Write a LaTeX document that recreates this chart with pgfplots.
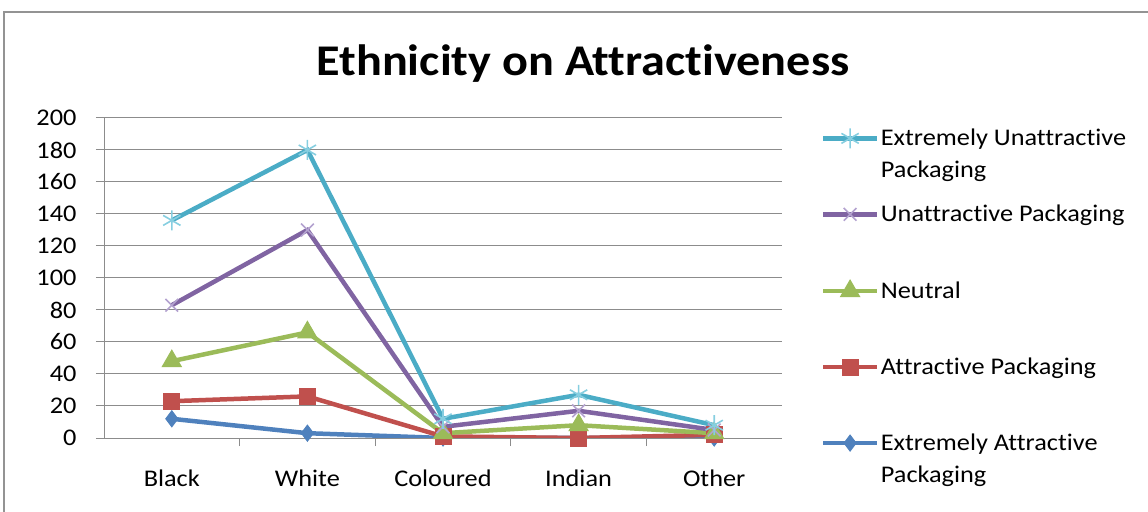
\documentclass[border=0pt]{standalone}
\usepackage{fontspec}
\setmainfont{Carlito}[FakeStretch=1.1, Ligatures=NoCommon]
\usepackage{pgfplots}
\pgfplotsset{compat=1.18}

\definecolor{exattr}{HTML}{4F81BD}
\definecolor{attr}{HTML}{C0504D}
\definecolor{neutral}{HTML}{9BBB59}
\definecolor{unattr}{HTML}{8064A2}
\definecolor{exunattr}{HTML}{4BACC6}
\definecolor{unattrmark}{HTML}{B3A2CF}
\definecolor{exunattrmark}{HTML}{86CEE0}
\definecolor{gridgray}{HTML}{8C8C8C}

% one strut-sized box per legend row, so every row has the same height
\newcommand{\legrow}[1]{\raisebox{0pt}[16bp][6bp]{\begin{tabular}[t]{@{}l@{}}#1\end{tabular}}}

\begin{document}
\begin{tikzpicture}
\useasboundingbox (0,0) rectangle (1148bp,512bp);
\draw[color=gray!85, line width=1.6bp] (4bp,0bp) -- (4bp,500bp) -- (1148bp,500bp);
\node[anchor=base, font=\bfseries\fontsize{44}{48}\selectfont] at (583bp,436bp) {Ethnicity on Attractiveness};

\begin{axis}[
  at={(104bp,74bp)}, anchor=south west,
  scale only axis, width=678bp, height=320bp,
  xmin=-0.5, xmax=4.5, ymin=0, ymax=200,
  axis x line*=bottom, axis y line*=left,
  axis line style={gridgray, line width=1bp},
  xtick={0,...,4},
  xticklabels={Black,White,Coloured,Indian,Other},
  minor xtick={0.5,1.5,2.5,3.5},
  ytick={0,20,...,200},
  tick align=outside,
  major x tick style={draw=none},
  tick style={gridgray, line width=1bp},
  major tick length=8bp, minor tick length=8bp,
  ymajorgrids,
  grid style={gridgray, line width=1bp},
  /pgf/number format/assume math mode=true,
  tick label style={font=\fontsize{24}{28}\selectfont, text=black},
  yticklabel style={xshift=-16bp},
  xticklabel style={yshift=-20bp},
  legend cell align=left,
  reverse legend,
  legend style={at={(1.057,0.969)}, anchor=north west, draw=none, fill=none,
    font=\fontsize{24}{30}\selectfont, row sep=55.5bp, inner sep=0pt,
    nodes={inner sep=1.5bp}},
  legend image code/.code={\draw[mark repeat=2,mark phase=2,#1]
    plot coordinates {(0bp,0bp) (27bp,0bp) (54bp,0bp)};},
  every axis plot/.append style={line width=4.5bp},
]
\addplot[exattr, mark=diamond*, mark size=8bp, mark options={line width=1bp}]
  coordinates {(0,12) (1,3) (2,0) (3,0) (4,0)};
\addplot[attr, mark=square*, mark size=8bp, mark options={line width=1bp}]
  coordinates {(0,23) (1,26) (2,1) (3,0) (4,2)};
\addplot[neutral, mark=triangle*, mark size=11bp, mark options={line width=1bp}]
  coordinates {(0,48) (1,66) (2,3) (3,8) (4,3)};
\addplot[unattr, mark=x, mark size=9bp, mark options={unattrmark, line width=1.6bp}]
  coordinates {(0,83) (1,130) (2,7) (3,17) (4,5)};
\addplot[exunattr, mark=asterisk, mark size=10bp, mark options={exunattrmark, line width=1.6bp}]
  coordinates {(0,136) (1,180) (2,12) (3,27) (4,8)};
\legend{\legrow{Extremely Attractive\\[2bp]Packaging},
        \legrow{Attractive Packaging},
        \legrow{Neutral},
        \legrow{Unattractive Packaging},
        \legrow{Extremely Unattractive\\[2bp]Packaging}}
\end{axis}
\end{tikzpicture}
\end{document}
